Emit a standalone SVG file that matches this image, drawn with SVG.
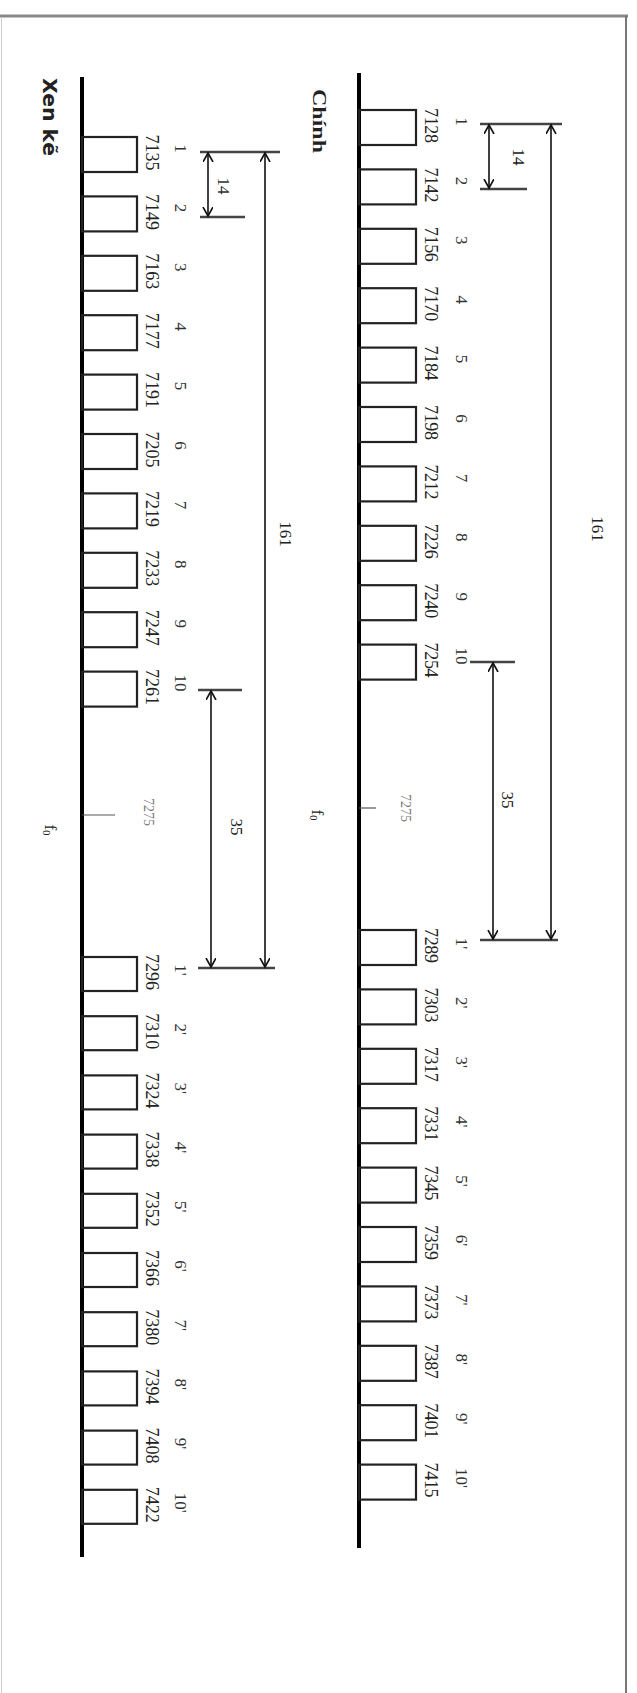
<svg xmlns="http://www.w3.org/2000/svg" width="637" height="1693" viewBox="0 0 637 1693">
<defs>
<marker id="ah" markerUnits="userSpaceOnUse" markerWidth="12" markerHeight="12" refX="9" refY="5" orient="auto-start-reverse">
<path d="M0,0 L9,5 L0,10" fill="none" stroke="#111" stroke-width="1.6"/>
</marker>
<style>
.axis{stroke:#000;stroke-width:4;fill:none}
.box{stroke:#222;stroke-width:2.2;fill:none}
.ext{stroke:#444;stroke-width:2.4;fill:none}
.dim{stroke:#111;stroke-width:1.6;fill:none;marker-start:url(#ah);marker-end:url(#ah)}
.tick{stroke:#555;stroke-width:1.2}
text{font-family:"Liberation Serif",serif;font-size:17px;fill:#222;text-anchor:middle;dominant-baseline:central}
.v{font-size:18px}
.n{fill:#333}
.faint{fill:#777;font-size:14px}
.t{font-weight:bold;font-size:18px}
.ts{font-family:"DejaVu Sans",sans-serif;font-weight:bold;font-size:19px}
</style>
</defs>
<rect width="637" height="1693" fill="#fff"/>
<g id="frame">
<line x1="0" y1="16" x2="628" y2="16" stroke="#888" stroke-width="3"/>
<line x1="626" y1="16" x2="626" y2="1693" stroke="#777" stroke-width="2"/>
<line x1="1.5" y1="17" x2="1.5" y2="1693" stroke="#ccc" stroke-width="1"/>
</g>

<g id="chinh">
<text class="t" transform="translate(319,121) rotate(90)" textLength="64" lengthAdjust="spacingAndGlyphs">Chính</text>
<line class="axis" x1="359" y1="73" x2="359" y2="1548"/>
<g id="chinh-boxes">
<rect class="box" x="359" y="110" width="57" height="35"/>
<rect class="box" x="359" y="169.4" width="57" height="35"/>
<rect class="box" x="359" y="228.8" width="57" height="35"/>
<rect class="box" x="359" y="288.2" width="57" height="35"/>
<rect class="box" x="359" y="347.6" width="57" height="35"/>
<rect class="box" x="359" y="407" width="57" height="35"/>
<rect class="box" x="359" y="466.4" width="57" height="35"/>
<rect class="box" x="359" y="525.8" width="57" height="35"/>
<rect class="box" x="359" y="585.2" width="57" height="35"/>
<rect class="box" x="359" y="644.6" width="57" height="35"/>
<rect class="box" x="359" y="930" width="57" height="35"/>
<rect class="box" x="359" y="989.4" width="57" height="35"/>
<rect class="box" x="359" y="1048.8" width="57" height="35"/>
<rect class="box" x="359" y="1108.2" width="57" height="35"/>
<rect class="box" x="359" y="1167.6" width="57" height="35"/>
<rect class="box" x="359" y="1227" width="57" height="35"/>
<rect class="box" x="359" y="1286.4" width="57" height="35"/>
<rect class="box" x="359" y="1345.8" width="57" height="35"/>
<rect class="box" x="359" y="1405.2" width="57" height="35"/>
<rect class="box" x="359" y="1464.6" width="57" height="35"/>
</g>
<g id="chinh-values">
<text class="v" textLength="35" transform="translate(431,125.5) rotate(90)">7128</text>
<text class="v" textLength="35" transform="translate(431,184.9) rotate(90)">7142</text>
<text class="v" textLength="35" transform="translate(431,244.3) rotate(90)">7156</text>
<text class="v" textLength="35" transform="translate(431,303.7) rotate(90)">7170</text>
<text class="v" textLength="35" transform="translate(431,363.1) rotate(90)">7184</text>
<text class="v" textLength="35" transform="translate(431,422.5) rotate(90)">7198</text>
<text class="v" textLength="35" transform="translate(431,481.9) rotate(90)">7212</text>
<text class="v" textLength="35" transform="translate(431,541.3) rotate(90)">7226</text>
<text class="v" textLength="35" transform="translate(431,600.7) rotate(90)">7240</text>
<text class="v" textLength="35" transform="translate(431,660.1) rotate(90)">7254</text>
<text class="v" textLength="35" transform="translate(431,945.5) rotate(90)">7289</text>
<text class="v" textLength="35" transform="translate(431,1004.9) rotate(90)">7303</text>
<text class="v" textLength="35" transform="translate(431,1064.3) rotate(90)">7317</text>
<text class="v" textLength="35" transform="translate(431,1123.7) rotate(90)">7331</text>
<text class="v" textLength="35" transform="translate(431,1183.1) rotate(90)">7345</text>
<text class="v" textLength="35" transform="translate(431,1242.5) rotate(90)">7359</text>
<text class="v" textLength="35" transform="translate(431,1301.9) rotate(90)">7373</text>
<text class="v" textLength="35" transform="translate(431,1361.3) rotate(90)">7387</text>
<text class="v" textLength="35" transform="translate(431,1420.7) rotate(90)">7401</text>
<text class="v" textLength="35" transform="translate(431,1480.1) rotate(90)">7415</text>
</g>
<g id="chinh-numbers">
<text class="n" transform="translate(461,121.5) rotate(90)">1</text>
<text class="n" transform="translate(461,180.9) rotate(90)">2</text>
<text class="n" transform="translate(461,240.3) rotate(90)">3</text>
<text class="n" transform="translate(461,299.7) rotate(90)">4</text>
<text class="n" transform="translate(461,359.1) rotate(90)">5</text>
<text class="n" transform="translate(461,418.5) rotate(90)">6</text>
<text class="n" transform="translate(461,477.9) rotate(90)">7</text>
<text class="n" transform="translate(461,537.3) rotate(90)">8</text>
<text class="n" transform="translate(461,596.7) rotate(90)">9</text>
<text class="n" transform="translate(461,656.1) rotate(90)">10</text>
<text class="n" transform="translate(461,943.5) rotate(90)">1'</text>
<text class="n" transform="translate(461,1002.9) rotate(90)">2'</text>
<text class="n" transform="translate(461,1062.3) rotate(90)">3'</text>
<text class="n" transform="translate(461,1121.7) rotate(90)">4'</text>
<text class="n" transform="translate(461,1181.1) rotate(90)">5'</text>
<text class="n" transform="translate(461,1240.5) rotate(90)">6'</text>
<text class="n" transform="translate(461,1299.9) rotate(90)">7'</text>
<text class="n" transform="translate(461,1359.3) rotate(90)">8'</text>
<text class="n" transform="translate(461,1418.7) rotate(90)">9'</text>
<text class="n" transform="translate(461,1478.1) rotate(90)">10'</text>
</g>
<line class="tick" x1="359" y1="808" x2="376" y2="808"/>
<text class="faint" transform="translate(405,808) rotate(90)">7275</text>
<text transform="translate(317,815) rotate(90)">f<tspan font-size="11" dy="3">0</tspan></text>
</g>

<g id="xenke">
<text class="ts" transform="translate(50,117) rotate(90)" textLength="78" lengthAdjust="spacingAndGlyphs">Xen kẽ</text>
<line class="axis" x1="82" y1="77" x2="82" y2="1557"/>
<g id="xen-boxes">
<rect class="box" x="82" y="137" width="55" height="35"/>
<rect class="box" x="82" y="196.4" width="55" height="35"/>
<rect class="box" x="82" y="255.8" width="55" height="35"/>
<rect class="box" x="82" y="315.2" width="55" height="35"/>
<rect class="box" x="82" y="374.6" width="55" height="35"/>
<rect class="box" x="82" y="434" width="55" height="35"/>
<rect class="box" x="82" y="493.4" width="55" height="35"/>
<rect class="box" x="82" y="552.8" width="55" height="35"/>
<rect class="box" x="82" y="612.2" width="55" height="35"/>
<rect class="box" x="82" y="671.6" width="55" height="35"/>
<rect class="box" x="82" y="957" width="55" height="34"/>
<rect class="box" x="82" y="1016.2" width="55" height="34"/>
<rect class="box" x="82" y="1075.4" width="55" height="34"/>
<rect class="box" x="82" y="1134.6" width="55" height="34"/>
<rect class="box" x="82" y="1193.8" width="55" height="34"/>
<rect class="box" x="82" y="1253" width="55" height="34"/>
<rect class="box" x="82" y="1312.2" width="55" height="34"/>
<rect class="box" x="82" y="1371.4" width="55" height="34"/>
<rect class="box" x="82" y="1430.6" width="55" height="34"/>
<rect class="box" x="82" y="1489.8" width="55" height="34"/>
</g>
<g id="xen-values">
<text class="v" textLength="36" transform="translate(152,152.5) rotate(90)">7135</text>
<text class="v" textLength="36" transform="translate(152,211.9) rotate(90)">7149</text>
<text class="v" textLength="36" transform="translate(152,271.3) rotate(90)">7163</text>
<text class="v" textLength="36" transform="translate(152,330.7) rotate(90)">7177</text>
<text class="v" textLength="36" transform="translate(152,390.1) rotate(90)">7191</text>
<text class="v" textLength="36" transform="translate(152,449.5) rotate(90)">7205</text>
<text class="v" textLength="36" transform="translate(152,508.9) rotate(90)">7219</text>
<text class="v" textLength="36" transform="translate(152,568.3) rotate(90)">7233</text>
<text class="v" textLength="36" transform="translate(152,627.7) rotate(90)">7247</text>
<text class="v" textLength="36" transform="translate(152,687.1) rotate(90)">7261</text>
<text class="v" textLength="36" transform="translate(152,972) rotate(90)">7296</text>
<text class="v" textLength="36" transform="translate(152,1031.2) rotate(90)">7310</text>
<text class="v" textLength="36" transform="translate(152,1090.4) rotate(90)">7324</text>
<text class="v" textLength="36" transform="translate(152,1149.6) rotate(90)">7338</text>
<text class="v" textLength="36" transform="translate(152,1208.8) rotate(90)">7352</text>
<text class="v" textLength="36" transform="translate(152,1268) rotate(90)">7366</text>
<text class="v" textLength="36" transform="translate(152,1327.2) rotate(90)">7380</text>
<text class="v" textLength="36" transform="translate(152,1386.4) rotate(90)">7394</text>
<text class="v" textLength="36" transform="translate(152,1445.6) rotate(90)">7408</text>
<text class="v" textLength="36" transform="translate(152,1504.8) rotate(90)">7422</text>
</g>
<g id="xen-numbers">
<text class="n" transform="translate(180,148.5) rotate(90)">1</text>
<text class="n" transform="translate(180,207.9) rotate(90)">2</text>
<text class="n" transform="translate(180,267.3) rotate(90)">3</text>
<text class="n" transform="translate(180,326.7) rotate(90)">4</text>
<text class="n" transform="translate(180,386.1) rotate(90)">5</text>
<text class="n" transform="translate(180,445.5) rotate(90)">6</text>
<text class="n" transform="translate(180,504.9) rotate(90)">7</text>
<text class="n" transform="translate(180,564.3) rotate(90)">8</text>
<text class="n" transform="translate(180,623.7) rotate(90)">9</text>
<text class="n" transform="translate(180,683.1) rotate(90)">10</text>
<text class="n" transform="translate(180,970) rotate(90)">1'</text>
<text class="n" transform="translate(180,1029.2) rotate(90)">2'</text>
<text class="n" transform="translate(180,1088.4) rotate(90)">3'</text>
<text class="n" transform="translate(180,1147.6) rotate(90)">4'</text>
<text class="n" transform="translate(180,1206.8) rotate(90)">5'</text>
<text class="n" transform="translate(180,1266) rotate(90)">6'</text>
<text class="n" transform="translate(180,1325.2) rotate(90)">7'</text>
<text class="n" transform="translate(180,1384.4) rotate(90)">8'</text>
<text class="n" transform="translate(180,1443.6) rotate(90)">9'</text>
<text class="n" transform="translate(180,1502.8) rotate(90)">10'</text>
</g>
<line class="tick" x1="82" y1="815" x2="115" y2="815"/>
<text class="faint" transform="translate(148,812) rotate(90)">7275</text>
<text transform="translate(50,830) rotate(90)">f<tspan font-size="11" dy="3">0</tspan></text>
</g>

<g id="connectors">
<line class="ext" x1="480" y1="124" x2="562" y2="124"/>
<line class="ext" x1="480" y1="189" x2="527" y2="189"/>
<line class="ext" x1="470" y1="662" x2="515" y2="662"/>
<line class="ext" x1="480" y1="940" x2="558" y2="940"/>
<line class="dim" x1="489" y1="125" x2="489" y2="188"/>
<line class="dim" x1="551" y1="125" x2="551" y2="939"/>
<line class="dim" x1="493" y1="663" x2="493" y2="939"/>
<line class="ext" x1="200" y1="152" x2="280" y2="152"/>
<line class="ext" x1="200" y1="217" x2="245" y2="217"/>
<line class="ext" x1="198" y1="690" x2="242" y2="690"/>
<line class="ext" x1="198" y1="968" x2="275" y2="968"/>
<line class="dim" x1="208" y1="153" x2="208" y2="216"/>
<line class="dim" x1="265" y1="153" x2="265" y2="967"/>
<line class="dim" x1="211" y1="691" x2="211" y2="967"/>
</g>
<g id="dim-labels">
<text transform="translate(518,157) rotate(90)">14</text>
<text transform="translate(597,529) rotate(90)">161</text>
<text transform="translate(507,800) rotate(90)">35</text>
<text class="n" transform="translate(223,186) rotate(90)">14</text>
<text transform="translate(285,534) rotate(90)">161</text>
<text transform="translate(236,827) rotate(90)">35</text>
</g>
</svg>
